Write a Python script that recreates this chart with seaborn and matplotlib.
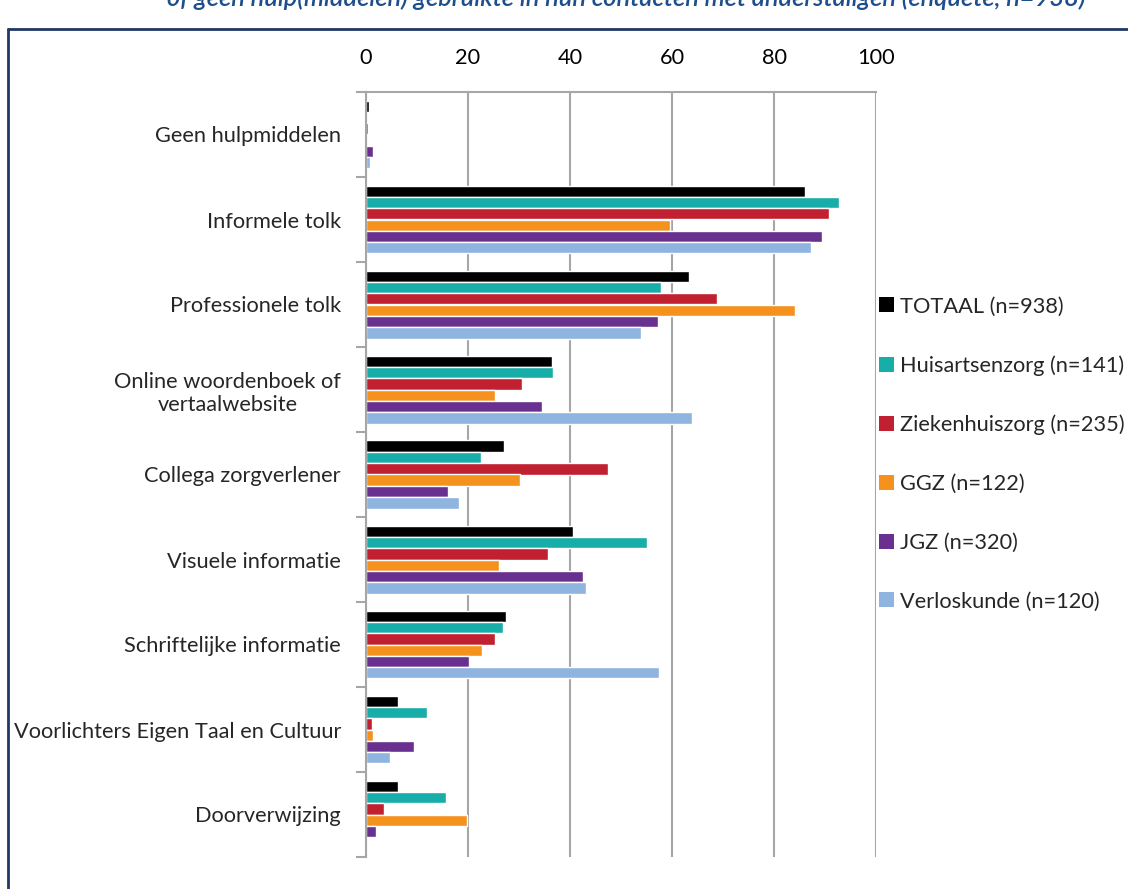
import numpy as np
import pandas as pd
import matplotlib
matplotlib.use("Agg")
import matplotlib.pyplot as plt
from matplotlib.patches import Patch
from matplotlib.lines import Line2D
import seaborn as sns

categories = [
    "Geen hulpmiddelen",
    "Informele tolk",
    "Professionele tolk",
    "Online woordenboek of\nvertaalwebsite",
    "Collega zorgverlener",
    "Visuele informatie",
    "Schriftelijke informatie",
    "Voorlichters Eigen Taal en Cultuur",
    "Doorverwijzing",
]
series = [
    "TOTAAL (n=938)",
    "Huisartsenzorg (n=141)",
    "Ziekenhuiszorg (n=235)",
    "GGZ (n=122)",
    "JGZ (n=320)",
    "Verloskunde (n=120)",
]
totaal = [0.6, 86.1, 63.3, 36.4, 27.0, 40.6, 27.5, 6.2, 6.2]
huisarts = [0.0, 92.7, 57.9, 36.7, 22.5, 55.1, 26.8, 11.9, 15.6]
ziekenhuis = [0.3, 90.8, 68.8, 30.5, 47.5, 35.6, 25.3, 1.2, 3.5]
ggz = [0.0, 59.6, 84.2, 25.3, 30.1, 26.0, 22.8, 1.4, 19.8]
jgz = [1.4, 89.5, 57.3, 34.5, 16.1, 42.6, 20.1, 9.5, 1.9]
verloskunde = [0.7, 87.3, 54.0, 63.9, 18.2, 43.2, 57.4, 4.8, 0.0]
colors = ["#000000", "#17ADA9", "#C0202F", "#F5921E", "#69308F", "#8EB4DF"]
xticks = [0, 20, 40, 60, 80, 100]
title = "of geen hulp(middelen) gebruikte in hun contacten met anderstaligen (enquête, n=938)"

values = [totaal, huisarts, ziekenhuis, ggz, jgz, verloskunde]
rows = []
for s, vals in zip(series, values):
    for c, v in zip(categories, vals):
        rows.append({"cat": c, "series": s, "value": v})
df = pd.DataFrame(rows)

sns.set_theme(style="white")
plt.rcParams["font.family"] = ["Lato", "DejaVu Sans"]

W, H = 1128, 889
FS = 15.7
fig = plt.figure(figsize=(W / 100, H / 100), dpi=100)
ax = fig.add_axes([366 / W, 1 - 857 / H, (876 - 366) / W, (857 - 92) / H])

sns.barplot(data=df, y="cat", x="value", hue="series", orient="h",
            order=categories, hue_order=series, palette=colors,
            saturation=1, width=0.8, errorbar=None, ax=ax, legend=False)

grid_c = "#A6A6A6"
ax.set_xlim(0, 100)
ax.set_xticks(xticks)
ax.set_xticklabels([str(t) for t in xticks])
ax.xaxis.tick_top()
ax.tick_params(axis="x", length=0, pad=17, labelsize=FS, colors="#000000")
ax.set_ylim(len(categories) - 0.5, -0.5)
ax.set_yticks(range(len(categories)))
ax.set_yticklabels(categories)
ax.set_yticks(np.arange(-0.5, len(categories), 1.0), minor=True)
ax.tick_params(axis="y", which="major", length=0, pad=18, labelsize=FS)
for lab in ax.get_yticklabels():
    lab.set_multialignment("center")
ax.tick_params(axis="y", which="minor", length=7, width=1.5, color=grid_c, left=True)
ax.set_xlabel("")
ax.set_ylabel("")
ax.grid(axis="x", color=grid_c, lw=1.5)
ax.grid(axis="y", visible=False)
ax.set_axisbelow(True)
for side in ["right", "bottom"]:
    ax.spines[side].set_visible(False)
for side in ["top", "left"]:
    ax.spines[side].set_color(grid_c)
    ax.spines[side].set_linewidth(1.5)

handles = [Patch(facecolor=c, edgecolor="none") for c in colors]
fig.legend(handles, series, loc="center left", bbox_to_anchor=(879 / W, 1 - 454 / H),
           frameon=False, fontsize=FS, handlelength=0.68, handleheight=0.68,
           handletextpad=0.28, labelspacing=1.78, borderpad=0, borderaxespad=0)

# frame
fig.add_artist(Line2D([7.5 / W, 7.5 / W], [0, 1 - 29 / H], transform=fig.transFigure,
                      color="#1F3864", lw=2))
fig.add_artist(Line2D([7.5 / W, 1], [1 - 29 / H, 1 - 29 / H], transform=fig.transFigure,
                      color="#1F3864", lw=2))
fig.text(626 / W, 1 - 6 / H, title, ha="center", va="baseline", fontsize=18.3,
         style="italic", fontweight="semibold", color="#1F4E8C")

fig.savefig("out.png", dpi=100)
